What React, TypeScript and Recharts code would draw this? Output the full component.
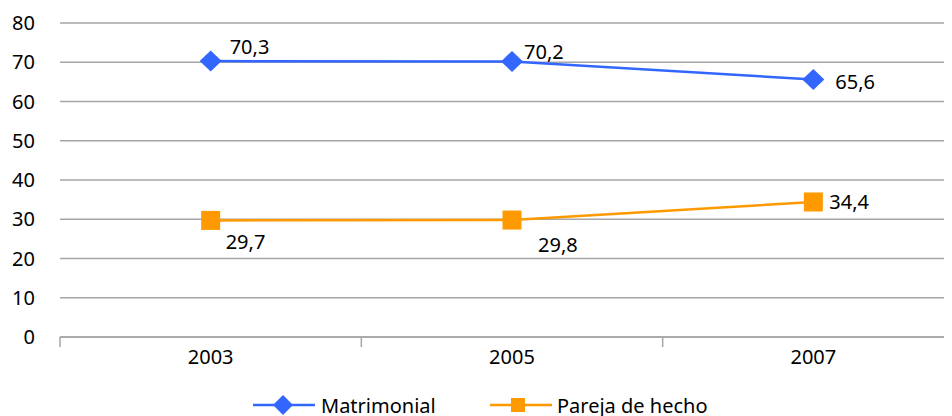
import React from 'react';
import { LineChart, Line, XAxis, YAxis, CartesianGrid, LabelList } from 'recharts';

const years = ['2003', '2005', '2007'];
const matrimonial = [70.3, 70.2, 65.6];
const pareja = [29.7, 29.8, 34.4];
const yTicks = [0, 10, 20, 30, 40, 50, 60, 70, 80];
const seriesNames = ['Matrimonial', 'Pareja de hecho'];

const data = years.map((y, i) => ({ year: y, matrimonial: matrimonial[i], pareja: pareja[i] }));

const BLUE = '#3366FF';
const ORANGE = '#FF9900';
const GRID = '#A6A6A6';
const FONT = '"Noto Sans", sans-serif';
const FS = 20;

const CHART_W = 960;
const CHART_H = 408;
const MARGIN = { top: 15, right: 4, bottom: 0, left: 0 };
const Y_W = 52;
const BAND = (CHART_W - MARGIN.left - MARGIN.right - Y_W) / years.length;

const matLabelOffsets = [[19, -15], [12, -10], [22, 2]];
const parLabelOffsets = [[15, 21], [26, 24], [16, 0]];

const fmt = (v: number) => v.toFixed(1).replace('.', ',');

const Diamond = (props: any) => {
  const { cx, cy, index } = props;
  if (cx == null || cy == null) return <g key={index} />;
  return (
    <polygon
      key={index}
      points={`${cx - 11},${cy} ${cx},${cy - 10.5} ${cx + 11},${cy} ${cx},${cy + 10.5}`}
      fill={BLUE}
    />
  );
};

const Square = (props: any) => {
  const { cx, cy, index } = props;
  if (cx == null || cy == null) return <g key={index} />;
  return <rect key={index} x={cx - 9.5} y={cy - 9.5} width={19} height={19} fill={ORANGE} />;
};

const makeLabel = (offsets: number[][]) => (props: any) => {
  const { x, y, value, index } = props;
  const [dx, dy] = offsets[index] || [0, 0];
  return (
    <text
      key={index}
      x={x + dx}
      y={y + dy}
      textAnchor="start"
      dominantBaseline="central"
      fontFamily={FONT}
      fontSize={FS}
      fill="#000"
    >
      {fmt(value)}
    </text>
  );
};

const XTick = (props: any) => {
  const { x, y, payload } = props;
  return (
    <g>
      <line x1={x - BAND / 2} x2={x - BAND / 2} y1={y} y2={y + 10} stroke={GRID} strokeWidth={1.5} />
      <text
        x={x}
        y={y + 19}
        textAnchor="middle"
        dominantBaseline="central"
        fontFamily={FONT}
        fontSize={FS}
        fill="#000"
      >
        {payload.value}
      </text>
    </g>
  );
};

const Legend = () => (
  <div style={{ position: 'absolute', left: 0, top: 384, width: 944, height: 24 }}>
    <svg width={944} height={24} style={{ display: 'block', overflow: 'visible' }}>
      <line x1={245} x2={307} y1={13} y2={13} stroke={BLUE} strokeWidth={2.5} />
      <polygon points={`265,13 275,3 285,13 275,23`} fill={BLUE} />
      <text x={313} y={13} dominantBaseline="central" fontFamily={FONT} fontSize={FS} fill="#000">
        {seriesNames[0]}
      </text>
      <line x1={482} x2={544} y1={13} y2={13} stroke={ORANGE} strokeWidth={2.5} />
      <rect x={503} y={6} width={14} height={14} fill={ORANGE} />
      <text x={549} y={13} dominantBaseline="central" fontFamily={FONT} fontSize={FS} fill="#000">
        {seriesNames[1]}
      </text>
    </svg>
  </div>
);

export default function App() {
  return (
    <div style={{ position: 'relative', width: 944, height: 408, overflow: 'hidden', background: '#fff' }}>
      <LineChart width={CHART_W} height={CHART_H} data={data} margin={MARGIN}>
        <CartesianGrid vertical={false} stroke={GRID} strokeWidth={1.5} />
        <XAxis
          dataKey="year"
          scale="band"
          height={79}
          tickSize={0}
          tickMargin={0}
          tickLine={false}
          axisLine={{ stroke: GRID, strokeWidth: 1.5 }}
          interval={0}
          tick={<XTick />}
        />
        <YAxis
          domain={[0, 80]}
          ticks={yTicks}
          width={Y_W}
          axisLine={false}
          tickLine={false}
          tickSize={0}
          tickMargin={25}
          tick={{ fontFamily: FONT, fontSize: FS, fill: '#000' }}
          interval={0}
        />
        <Line
          type="linear"
          dataKey="matrimonial"
          stroke={BLUE}
          strokeWidth={2.5}
          dot={<Diamond />}
          activeDot={false}
          isAnimationActive={false}
        >
          <LabelList dataKey="matrimonial" content={makeLabel(matLabelOffsets)} />
        </Line>
        <Line
          type="linear"
          dataKey="pareja"
          stroke={ORANGE}
          strokeWidth={2.5}
          dot={<Square />}
          activeDot={false}
          isAnimationActive={false}
        >
          <LabelList dataKey="pareja" content={makeLabel(parLabelOffsets)} />
        </Line>
      </LineChart>
      <Legend />
    </div>
  );
}
